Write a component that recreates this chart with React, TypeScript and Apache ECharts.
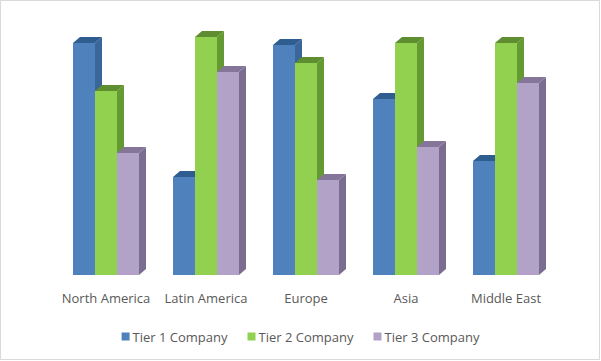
import React, { useEffect, useRef } from "react";
import * as echarts from "echarts";

const categories = ["North America", "Latin America", "Europe", "Asia", "Middle East"];
const seriesNames = ["Tier 1 Company", "Tier 2 Company", "Tier 3 Company"];
const tier1 = [232, 98, 230, 176, 114];
const tier2 = [184, 238, 212, 232, 232];
const tier3 = [122, 203, 95, 128, 192];

const palettes = [
  { front: "#4F81BD", top: "#2F5D8F", side: "#3B669A" },
  { front: "#92D050", top: "#5E8E30", side: "#659A33" },
  { front: "#B3A2C7", top: "#857599", side: "#7B6D8F" },
];

export default function App() {
  const ref = useRef<HTMLDivElement>(null);
  useEffect(() => {
    const chart = echarts.init(ref.current!, null, { renderer: "svg" });
    const all = [tier1, tier2, tier3];
    const series = all.map((vals, k) => ({
      type: "custom",
      name: seriesNames[k],
      itemStyle: { color: palettes[k].front },
      data: vals.map((v, i) => [i, v]),
      renderItem: (params: any, api: any) => {
        const cat = api.value(0);
        const v = api.value(1);
        const top = api.coord([cat, v]);
        const base = api.coord([cat, 0]);
        const band = api.size([1, 0])[0];
        const bw = band * 0.22;
        const dx = 7;
        const dy = 6;
        const x0 = top[0] - 1.5 * bw + k * bw;
        const x1 = x0 + bw;
        const yt = top[1];
        const yb = base[1];
        const p = palettes[k];
        return {
          type: "group",
          children: [
            {
              type: "polygon",
              shape: { points: [[x1, yt], [x1 + dx, yt - dy], [x1 + dx, yb - dy], [x1, yb]] },
              style: { fill: p.side },
            },
            {
              type: "polygon",
              shape: { points: [[x0, yt], [x0 + dx, yt - dy], [x1 + dx, yt - dy], [x1, yt]] },
              style: { fill: p.top },
            },
            {
              type: "rect",
              shape: { x: x0, y: yt, width: bw, height: yb - yt },
              style: { fill: p.front },
            },
          ],
        };
      },
    }));
    chart.setOption({
      animation: false,
      backgroundColor: "#ffffff",
      grid: { left: 56, right: 45, top: 25, bottom: 86 },
      xAxis: {
        type: "category",
        data: categories,
        axisLine: { show: false },
        axisTick: { show: false },
        axisLabel: {
          interval: 0,
          color: "#595959",
          fontSize: 13,
          fontFamily: "Open Sans",
          margin: 16,
        },
      },
      yAxis: {
        type: "value",
        min: 0,
        max: 250,
        show: false,
        splitLine: { show: false },
      },
      legend: {
        bottom: 13,
        left: "center",
        icon: "rect",
        itemWidth: 8,
        itemHeight: 8,
        itemGap: 20,
        textStyle: {
          color: "#595959",
          fontSize: 13,
          fontFamily: "Open Sans",
          padding: [0, 0, 0, -2],
        },
        data: seriesNames,
      },
      graphic: [
        {
          type: "rect",
          shape: { x: 0.5, y: 0.5, width: 599, height: 359 },
          style: { fill: "none", stroke: "#D9D9D9", lineWidth: 1 },
          silent: true,
        },
      ],
      series,
    });
    return () => chart.dispose();
  }, []);
  return (
    <div
      ref={ref}
      style={{ position: "fixed", left: 0, top: 0, width: 601, height: 361 }}
    />
  );
}
